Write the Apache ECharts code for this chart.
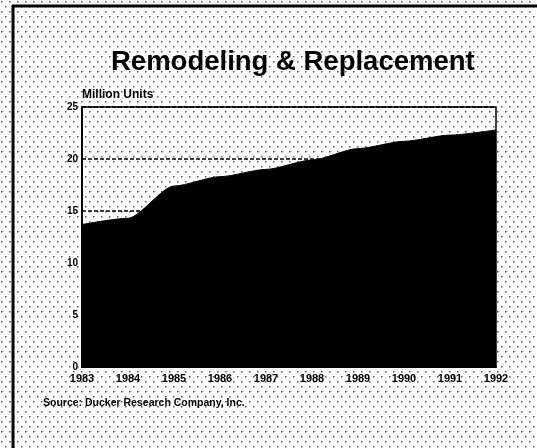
<!DOCTYPE html>
<html>
<head>
<meta charset="utf-8">
<script src="https://cdn.jsdelivr.net/npm/echarts@6/dist/echarts.min.js"></script>
<style>
html,body{margin:0;padding:0;background:#fff;}
#chart{width:537px;height:448px;}
</style>
</head>
<body>
<div id="chart"></div>
<script>
var titleText = 'Remodeling & Replacement';
var yAxisName = 'Million Units';
var sourceText = 'Source: Ducker Research Company, Inc.';
var years = ['1983','1984','1985','1986','1987','1988','1989','1990','1991','1992'];
var units = [13.7, 14.3, 17.4, 18.3, 19.0, 19.9, 21.0, 21.7, 22.3, 22.8];
var yTicks = [0, 5, 10, 15, 20, 25];

// halftone dot pattern
var tile = document.createElement('canvas');
tile.width = 8; tile.height = 10;
var tc = tile.getContext('2d');
tc.fillStyle = '#ffffff';
tc.fillRect(0, 0, 8, 10);
tc.fillStyle = '#555555';
tc.fillRect(1, 1, 1.5, 1.5);
tc.fillRect(5, 6, 1.5, 1.5);

var chart = echarts.init(document.getElementById('chart'), null, {renderer: 'canvas'});
var font = '"Liberation Sans", Arial, sans-serif';

chart.setOption({
  animation: false,
  backgroundColor: 'transparent',
  title: {
    text: titleText,
    left: 106,
    top: 43,
    textStyle: {fontFamily: font, fontSize: 27.5, fontWeight: 'bold', color: '#000'}
  },
  graphic: [
    {type: 'rect', z: -100, silent: true, shape: {x: 0, y: 0, width: 537, height: 448},
     style: {fill: {image: tile, repeat: 'repeat'}}},
    {type: 'line', z: 100, shape: {x1: 12, y1: 6, x2: 537, y2: 6}, style: {stroke: '#000', lineWidth: 3}},
    {type: 'line', z: 100, shape: {x1: 13, y1: 5, x2: 13, y2: 448}, style: {stroke: '#000', lineWidth: 3}},
    {type: 'text', left: 43, top: 398,
     style: {text: sourceText, fontFamily: font, fontSize: 10.5, fontWeight: 'bold', fill: '#000'}}
  ],
  grid: {left: 82, right: 41, top: 107, bottom: 81, show: true,
         borderColor: '#000', borderWidth: 1.5, backgroundColor: 'transparent'},
  xAxis: {
    type: 'category',
    data: years,
    boundaryGap: false,
    axisLine: {show: true, lineStyle: {color: '#000', width: 2}},
    axisTick: {show: false},
    axisLabel: {color: '#000', fontFamily: font, fontSize: 11, fontWeight: 'bold', margin: 6, interval: 0}
  },
  yAxis: {
    type: 'value',
    min: 0, max: 25, interval: 5,
    name: yAxisName,
    nameLocation: 'end',
    nameGap: 6,
    nameTextStyle: {color: '#000', fontFamily: font, fontSize: 12, fontWeight: 'bold', align: 'left', padding: [0, 0, 0, 0]},
    axisLine: {show: true, lineStyle: {color: '#000', width: 2}},
    axisTick: {show: false},
    axisLabel: {color: '#000', fontFamily: font, fontSize: 10, fontWeight: 'bold', margin: 4},
    splitLine: {show: true, lineStyle: {color: '#000', type: [4, 2], width: 1.5}}
  },
  series: [{
    type: 'line',
    data: units,
    smooth: 0.25,
    smoothMonotone: 'x',
    symbol: 'none',
    lineStyle: {color: '#000', width: 1},
    areaStyle: {color: '#000', opacity: 1},
    z: 3
  }]
});
</script>
</body>
</html>
